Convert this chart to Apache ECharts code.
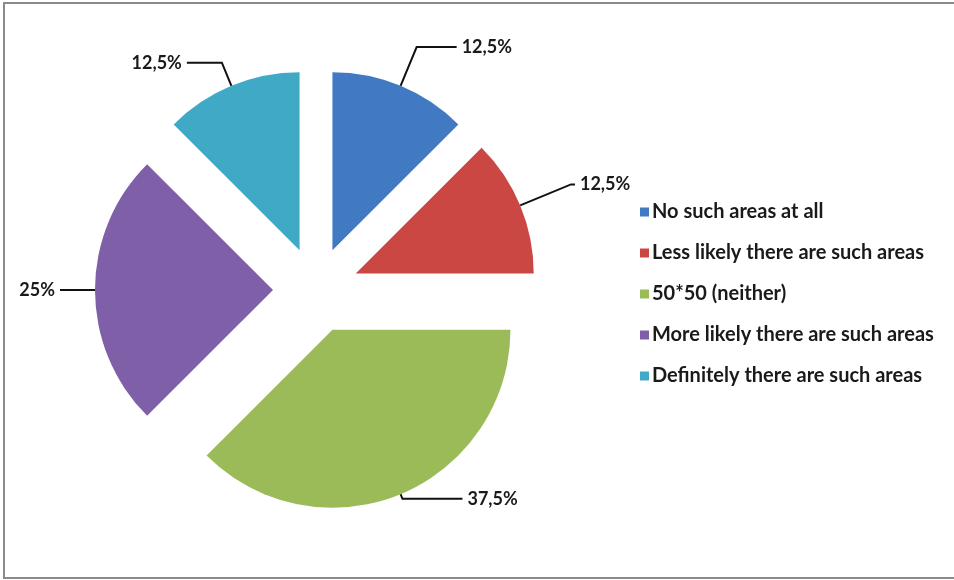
<!DOCTYPE html>
<html>
<head>
<meta charset="utf-8">
<script src="https://cdn.jsdelivr.net/npm/echarts@6/dist/echarts.min.js"></script>
<style>
html,body{margin:0;padding:0;background:#fff;}
#chart{width:954px;height:580px;}
</style>
</head>
<body>
<div id="chart"></div>
<script>
var categories = ['No such areas at all', 'Less likely there are such areas', '50*50 (neither)', 'More likely there are such areas', 'Definitely there are such areas'];
var values = [12.5, 12.5, 37.5, 25, 12.5];
var colors = ['#4179C2', '#CB4743', '#9BBB59', '#7F5FA8', '#40A9C6'];
var lineLen = [42, 55, 5, 20, 25];
var lineLen2 = [40, 4, 60, 15, 35];

var chart = echarts.init(document.getElementById('chart'));
var data = categories.map(function (c, i) {
  return {
    name: c, value: values[i], selected: true,
    itemStyle: { color: colors[i] },
    labelLine: { length: lineLen[i], length2: lineLen2[i] }
  };
});
chart.setOption({
  animation: false,
  backgroundColor: '#fff',
  graphic: [{
    type: 'rect',
    shape: { x: 4, y: 3, width: 980, height: 575 },
    style: { fill: 'none', stroke: '#8a8a8a', lineWidth: 2 },
    z: 100
  }],
  legend: {
    orient: 'vertical',
    left: 635,
    top: 197,
    itemWidth: 9,
    itemHeight: 9,
    itemGap: 21,
    icon: 'rect',
    data: categories,
    textStyle: { fontFamily: 'Lato', fontWeight: 'bold', fontSize: 20, color: '#1a1a1a', padding: [0, 0, 0, -2] }
  },
  series: [{
    type: 'pie',
    center: [316, 290],
    radius: 178,
    startAngle: 90,
    clockwise: true,
    selectedMode: 'multiple',
    selectedOffset: 43,
    data: data,
    label: {
      show: true,
      position: 'outside',
      fontFamily: 'Lato',
      fontWeight: 'bold',
      fontSize: 18,
      color: '#1a1a1a',
      formatter: function (p) { return String(p.value).replace('.', ',') + '%'; }
    },
    labelLine: {
      show: true,
      lineStyle: { color: '#111', width: 2 }
    },
    emphasis: { disabled: true }
  }]
});
</script>
</body>
</html>
